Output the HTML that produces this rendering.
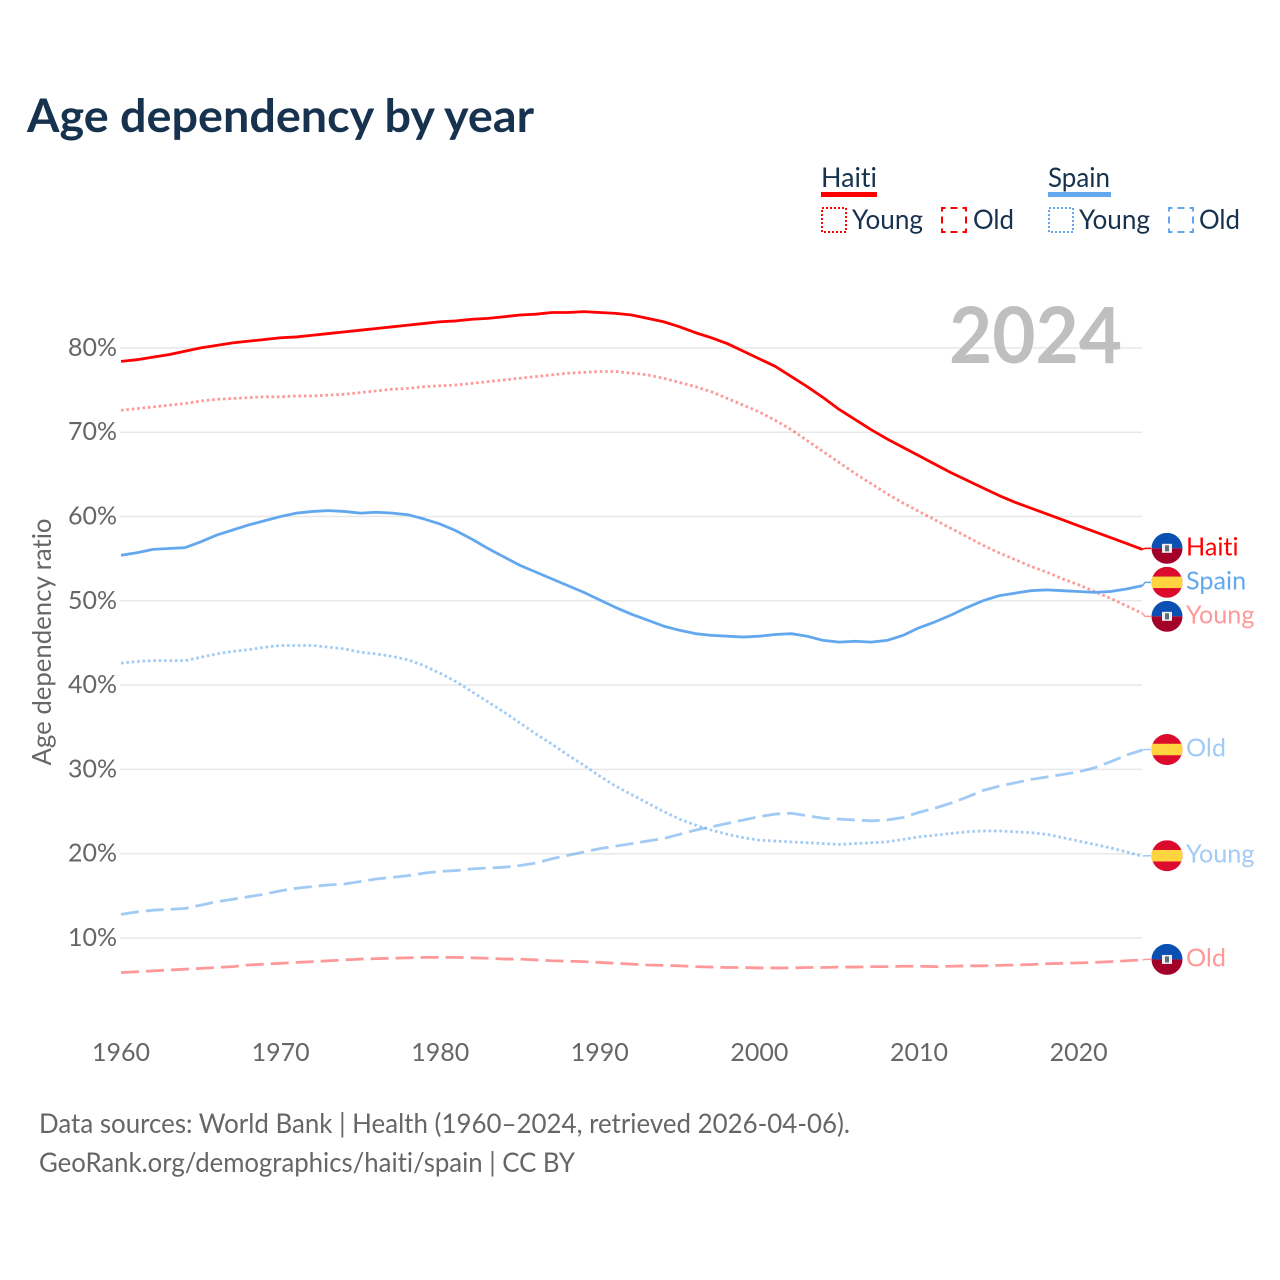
<!DOCTYPE html>
<html lang="en">
<head>
<meta charset="utf-8">
<title>Age dependency by year</title>
<style>
html,body{margin:0;padding:0;background:#fff;}
svg{display:block;}
text{font-family:"Lato","Carlito","Liberation Sans",sans-serif;font-variant-ligatures:none;}
</style>
</head>
<body>
<svg id="chart" width="1280" height="1280" viewBox="0 0 1280 1280" xmlns="http://www.w3.org/2000/svg">
  <rect width="1280" height="1280" fill="#ffffff"/>
  <text x="27" y="132" font-size="46" font-weight="700" fill="#17324f" textLength="507" lengthAdjust="spacingAndGlyphs">Age dependency by year</text>

  <g font-size="27" fill="#17324f">
    <g>
      <text x="821" y="187" textLength="56" lengthAdjust="spacingAndGlyphs">Haiti</text>
      <rect x="821" y="192" width="56" height="5" fill="#ff0000"/>
      <rect x="822" y="208" width="24" height="24" fill="none" stroke="#ff0000" stroke-width="2" stroke-dasharray="2,2"/>
      <text x="852" y="229" textLength="71" lengthAdjust="spacingAndGlyphs">Young</text>
      <rect x="942" y="208" width="24" height="24" fill="none" stroke="#ff0000" stroke-width="2" stroke-dasharray="7,5" stroke-dashoffset="3.5"/>
      <text x="973" y="229" textLength="41" lengthAdjust="spacingAndGlyphs">Old</text>
    </g>
    <g>
      <text x="1048" y="187" textLength="62" lengthAdjust="spacingAndGlyphs">Spain</text>
      <rect x="1048" y="192" width="63" height="5" fill="#63a8ee"/>
      <rect x="1049" y="208" width="24" height="24" fill="none" stroke="#63a8ee" stroke-width="2" stroke-dasharray="2,2"/>
      <text x="1079" y="229" textLength="71" lengthAdjust="spacingAndGlyphs">Young</text>
      <rect x="1169" y="208" width="24" height="24" fill="none" stroke="#63a8ee" stroke-width="2" stroke-dasharray="7,5" stroke-dashoffset="3.5"/>
      <text x="1199" y="229" textLength="41" lengthAdjust="spacingAndGlyphs">Old</text>
    </g>
  </g>

  <g id="grid"></g>
  <text x="1122" y="363" text-anchor="end" font-size="78" font-weight="700" fill="#bfbfbf" textLength="173" lengthAdjust="spacingAndGlyphs">2024</text>
  <g id="yticks"></g>
  <g id="xticks"></g>
  <text transform="translate(51,642) rotate(-90)" text-anchor="middle" font-size="26" fill="#666666" textLength="247" lengthAdjust="spacingAndGlyphs">Age dependency ratio</text>
  <g id="series"></g>
  <g id="labels"></g>

  <g font-size="27" fill="#666666">
    <text x="39" y="1133" textLength="811" lengthAdjust="spacingAndGlyphs">Data sources: World Bank | Health (1960–2024, retrieved 2026-04-06).</text>
    <text x="39" y="1172" textLength="536" lengthAdjust="spacingAndGlyphs">GeoRank.org/demographics/haiti/spain | CC BY</text>
  </g>
</svg>
<script>
var startYear = 1960;
var xTickYears = [1960, 1970, 1980, 1990, 2000, 2010, 2020];
var yTickValues = [10, 20, 30, 40, 50, 60, 70, 80];

var haitiTotal = [78.4,78.6,78.9,79.2,79.6,80.0,80.3,80.6,80.8,81.0,81.2,81.3,81.5,81.7,81.9,82.1,82.3,82.5,82.7,82.9,83.1,83.2,83.4,83.5,83.7,83.9,84.0,84.2,84.2,84.3,84.2,84.1,83.9,83.5,83.1,82.5,81.8,81.2,80.5,79.6,78.7,77.8,76.6,75.4,74.1,72.7,71.5,70.3,69.2,68.2,67.2,66.2,65.2,64.3,63.4,62.5,61.7,61.0,60.3,59.6,58.9,58.2,57.5,56.8,56.1];
var haitiYoung = [72.6,72.8,73.0,73.2,73.4,73.7,73.9,74.0,74.1,74.2,74.2,74.3,74.3,74.4,74.5,74.7,74.9,75.1,75.2,75.4,75.5,75.6,75.8,76.0,76.2,76.4,76.6,76.8,77.0,77.1,77.2,77.2,77.0,76.8,76.4,75.9,75.4,74.8,74.0,73.2,72.4,71.4,70.3,69.0,67.7,66.4,65.1,63.9,62.7,61.6,60.6,59.6,58.6,57.6,56.6,55.7,54.9,54.1,53.4,52.6,51.9,51.1,50.3,49.4,48.5];
var haitiOld = [5.9,6.0,6.1,6.2,6.3,6.4,6.5,6.6,6.8,6.9,7.0,7.1,7.2,7.3,7.4,7.5,7.55,7.6,7.65,7.7,7.7,7.7,7.65,7.6,7.5,7.5,7.4,7.3,7.25,7.2,7.1,7.0,6.9,6.8,6.75,6.7,6.6,6.55,6.5,6.5,6.45,6.45,6.45,6.5,6.5,6.55,6.55,6.6,6.6,6.65,6.65,6.6,6.65,6.7,6.7,6.75,6.8,6.85,6.95,7.0,7.05,7.1,7.2,7.3,7.4];
var spainTotal = [55.4,55.7,56.1,56.2,56.3,57.0,57.8,58.4,59.0,59.5,60.0,60.4,60.6,60.7,60.6,60.4,60.5,60.4,60.2,59.7,59.1,58.3,57.3,56.2,55.2,54.2,53.4,52.6,51.8,51.0,50.1,49.2,48.4,47.7,47.0,46.5,46.1,45.9,45.8,45.7,45.8,46.0,46.1,45.8,45.3,45.1,45.2,45.1,45.3,45.9,46.8,47.5,48.3,49.2,50.0,50.6,50.9,51.2,51.3,51.2,51.1,51.0,51.1,51.4,51.8];
var spainYoung = [42.6,42.8,42.9,42.9,42.9,43.3,43.7,44.0,44.2,44.5,44.7,44.7,44.7,44.5,44.3,43.9,43.7,43.4,43.0,42.3,41.4,40.4,39.2,38.0,36.8,35.5,34.2,33.0,31.7,30.5,29.2,28.0,27.0,26.0,25.0,24.1,23.4,22.8,22.3,21.9,21.6,21.5,21.4,21.3,21.2,21.1,21.2,21.3,21.4,21.7,22.0,22.2,22.4,22.6,22.7,22.7,22.6,22.5,22.3,21.9,21.5,21.1,20.7,20.2,19.7];
var spainOld = [12.8,13.1,13.3,13.4,13.5,13.9,14.3,14.6,14.9,15.2,15.6,15.9,16.1,16.3,16.4,16.7,17.0,17.2,17.4,17.7,17.9,18.0,18.2,18.3,18.4,18.6,18.9,19.4,19.8,20.2,20.6,20.9,21.2,21.5,21.8,22.3,22.8,23.2,23.6,24.0,24.4,24.7,24.8,24.5,24.2,24.1,24.0,23.9,24.0,24.3,24.9,25.4,26.0,26.7,27.5,28.0,28.4,28.8,29.1,29.4,29.7,30.2,30.9,31.7,32.3];

var NS = 'http://www.w3.org/2000/svg';
var RED = '#ff0000', BLUE = '#63a8ee';
function xScale(year) { return 121 + (year - 1960) * 15.96; }
function yScale(v) { return 1022.3 - v * 8.43; }
function make(tag, attrs, parent) {
  var el = document.createElementNS(NS, tag);
  for (var k in attrs) el.setAttribute(k, attrs[k]);
  parent.appendChild(el);
  return el;
}
var gridG = document.getElementById('grid');
var yG = document.getElementById('yticks');
var xG = document.getElementById('xticks');
var sG = document.getElementById('series');
var lG = document.getElementById('labels');

yTickValues.forEach(function (v) {
  var line = make('line', {x1: 120, x2: 1142, y1: yScale(v), y2: yScale(v), stroke: '#e8e8e8', 'stroke-width': 1.5}, gridG);
  
  
  var t = make('text', {x: 117, y: yScale(v) + 8, 'text-anchor': 'end', 'font-size': 25, fill: '#666666'}, yG);
  
  
  t.textContent = v + '%';
});
xTickYears.forEach(function (yr) {
  var t = make('text', {x: xScale(yr), y: 1061, 'text-anchor': 'middle', 'font-size': 25, fill: '#666666'}, xG);
  
  
  t.textContent = yr;
});

var seriesList = [
  {id: 'haiti-old', values: haitiOld, color: RED, op: 0.4, dash: '18,7', label: 'Old', flag: 'haiti'},
  {id: 'haiti-young', values: haitiYoung, color: RED, op: 0.4, dash: '2.6,2.8', label: 'Young', flag: 'haiti'},
  {id: 'haiti-total', values: haitiTotal, color: RED, op: 1, dash: '', label: 'Haiti', flag: 'haiti'},
  {id: 'spain-old', values: spainOld, color: BLUE, op: 0.6, dash: '18,7', label: 'Old', flag: 'spain'},
  {id: 'spain-young', values: spainYoung, color: BLUE, op: 0.6, dash: '2.6,2.8', label: 'Young', flag: 'spain'},
  {id: 'spain-total', values: spainTotal, color: BLUE, op: 1, dash: '', label: 'Spain', flag: 'spain'}
];

seriesList.forEach(function (s) {
  var pts = s.values.map(function (v, i) {
    return xScale(startYear + i).toFixed(2) + ',' + yScale(v).toFixed(2);
  }).join(' ');
  var attrs = {points: pts, fill: 'none', stroke: s.color, 'stroke-opacity': s.op, 'stroke-width': s.op === 1 ? 2.8 : 2.8, 'stroke-linejoin': 'round'};
  if (s.dash) attrs['stroke-dasharray'] = s.dash;
  var line = make('polyline', attrs, sG);
  
  
});

/* End-label placement: spread overlapping labels to a minimum gap. */
var GAP = 34;
var placed = seriesList.map(function (s) {
  return {s: s, end: yScale(s.values[s.values.length - 1]), y: yScale(s.values[s.values.length - 1])};
}).sort(function (a, b) { return a.end - b.end; });
var clusters = placed.map(function (p) { return {items: [p], mean: p.end}; });
for (var merged = true; merged;) {
  merged = false;
  for (var c = 0; c < clusters.length - 1; c++) {
    var A = clusters[c], B = clusters[c + 1];
    if (A.mean + (A.items.length - 1) * GAP / 2 + GAP > B.mean - (B.items.length - 1) * GAP / 2) {
      var items = A.items.concat(B.items);
      var sum = items.reduce(function (t, p) { return t + p.end; }, 0);
      clusters.splice(c, 2, {items: items, mean: sum / items.length});
      merged = true;
      break;
    }
  }
}
clusters.forEach(function (cl) {
  cl.items.forEach(function (p, i) {
    p.y = cl.mean + (i - (cl.items.length - 1) / 2) * GAP - 0.5;
  });
});

var clipCount = 0;
function drawFlag(kind, cy, parent) {
  var cx = 1167, r = 15.5, id = 'flag-clip-' + (clipCount++);
  var clip = make('clipPath', {id: id}, parent);
  make('circle', {cx: cx, cy: cy, r: r}, clip);
  var g = make('g', {'clip-path': 'url(#' + id + ')'}, parent);
  
  
  if (kind === 'haiti') {
    make('rect', {x: cx - r, y: cy - r, width: 2 * r, height: r, fill: '#0a50b2'}, g);
    make('rect', {x: cx - r, y: cy, width: 2 * r, height: r, fill: '#a20028'}, g);
    make('rect', {x: cx - 5, y: cy - 4.5, width: 10, height: 9, fill: '#efefef'}, g);
    make('rect', {x: cx - 2, y: cy - 3, width: 4, height: 6, fill: '#5a6f78'}, g);
  } else {
    make('rect', {x: cx - r, y: cy - r, width: 2 * r, height: 2 * r, fill: '#dc0a2d'}, g);
    make('rect', {x: cx - r, y: cy - 5.75, width: 2 * r, height: 11.5, fill: '#ffd43f'}, g);
  }
}

placed.forEach(function (p) {
  var s = p.s;
  var attrs = {points: '1142.6,' + p.end.toFixed(2) + ' 1145,' + p.y.toFixed(2) + ' 1151,' + p.y.toFixed(2), fill: 'none', stroke: s.color, 'stroke-opacity': s.op, 'stroke-width': 1.5};
  var lead = make('polyline', attrs, lG);
  
  
  drawFlag(s.flag, p.y, lG);
  var t = make('text', {x: 1186, y: p.y + 7, 'font-size': 25.2, fill: s.color, 'fill-opacity': s.op}, lG);
  
  
  t.textContent = s.label;
});
</script>
</body>
</html>
